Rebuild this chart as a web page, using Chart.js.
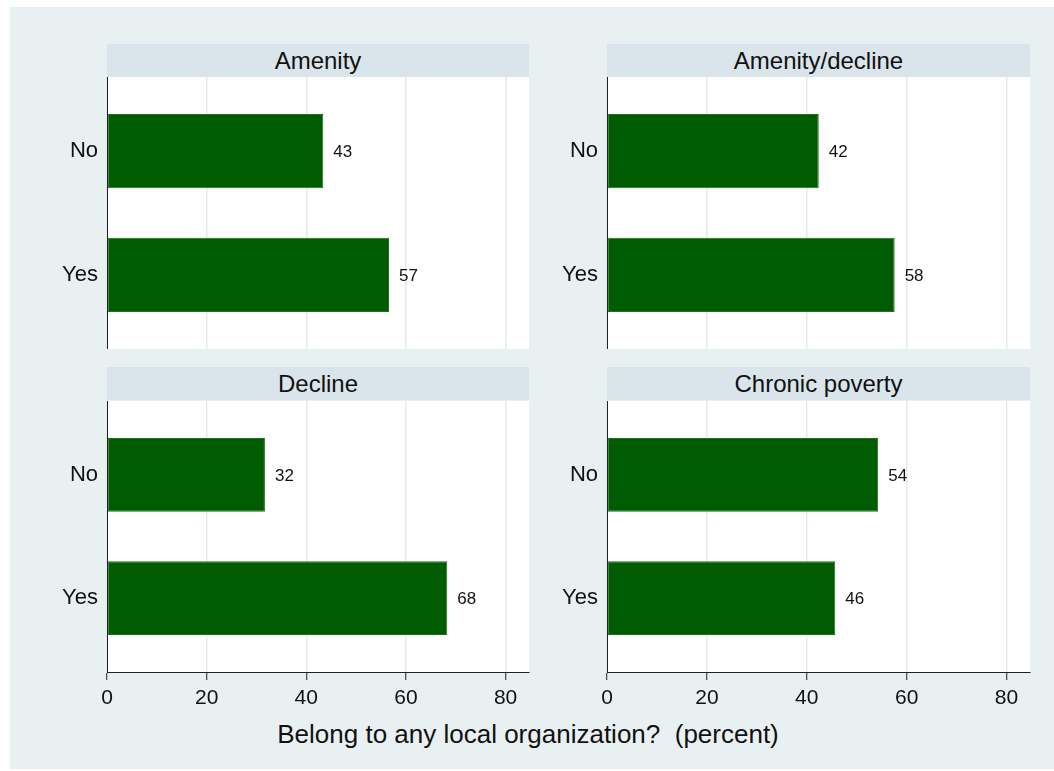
<!DOCTYPE html>
<html lang="en">
<head>
<meta charset="UTF-8">
<title>Belong to any local organization?</title>
<script src="https://cdn.jsdelivr.net/npm/chart.js"></script>
<style>
    body {
        margin: 0;
        background: #ffffff;
        font-family: "Liberation Sans", Arial, sans-serif;
        color: #111;
    }
    /* light graph region */
    .frame {
        position: absolute;
        left: 10px; top: 7px;
        width: 1044px; height: 762px;
        background: #e9f0f2;
    }
    /* panel title strips */
    .strip {
        position: absolute;
        height: 33px;
        line-height: 34px;
        background: #d9e5ea;
        text-align: center;
        font-size: 24px;
    }
    canvas { position: absolute; }
    #xtitle {
        position: absolute;
        left: 0; top: 719px;
        width: 1056px;
        text-align: center;
        font-size: 26px;
        white-space: pre;
    }
</style>
</head>
<body>

<div class="frame"></div>

<div class="strip" style="left:107px; top:44px; width:422px;" id="t0"></div>
<div class="strip" style="left:607px; top:44px; width:423px;" id="t1"></div>
<div class="strip" style="left:107px; top:367px; width:422px;" id="t2"></div>
<div class="strip" style="left:607px; top:367px; width:423px;" id="t3"></div>

<canvas id="c0" width="539" height="272" style="left:10px; top:77px;"></canvas>
<canvas id="c1" width="505" height="272" style="left:549px; top:77px;"></canvas>
<canvas id="c2" width="539" height="314" style="left:10px; top:401px;"></canvas>
<canvas id="c3" width="505" height="314" style="left:549px; top:401px;"></canvas>

<div id="xtitle"></div>

<script>
    // data (percent)
    const panelTitles = ["Amenity", "Amenity/decline", "Decline", "Chronic poverty"];
    const categories = ["No", "Yes"];
    const amenity = [43.4, 56.6];
    const amenityDecline = [42.4, 57.6];
    const decline = [31.7, 68.3];
    const chronicPoverty = [54.3, 45.7];
    const xTickValues = [0, 20, 40, 60, 80];
    const xMax = 84.7;
    const xAxisTitle = "Belong to any local organization?  (percent)";

    const seriesList = [amenity, amenityDecline, decline, chronicPoverty];
    const FONT = '"Liberation Sans", Arial, sans-serif';

    document.getElementById("xtitle").textContent = xAxisTitle;
    panelTitles.forEach((t, i) => {
        document.getElementById("t" + i).textContent = t;
    });

    // white plot region behind the bars
    const plotBackground = {
        id: "plotBackground",
        beforeDraw(chart) {
            const a = chart.chartArea;
            chart.ctx.save();
            chart.ctx.fillStyle = "#ffffff";
            chart.ctx.fillRect(a.left, a.top, a.right - a.left, a.bottom - a.top);
            chart.ctx.restore();
        }
    };

    // rounded value written just past the end of each bar
    const valueLabels = {
        id: "valueLabels",
        afterDatasetsDraw(chart) {
            const ctx = chart.ctx;
            const ds = chart.data.datasets[0];
            ctx.save();
            ctx.font = "17px " + FONT;
            ctx.fillStyle = "#111";
            ctx.textBaseline = "middle";
            ctx.textAlign = "left";
            chart.getDatasetMeta(0).data.forEach((bar, i) => {
                ctx.fillText(String(Math.round(ds.data[i].x)), bar.x + 10, bar.y + 1);
            });
            ctx.restore();
        }
    };

    function makePanel(idx) {
        const isBottom = idx >= 2;
        const isLeft = idx % 2 === 0;
        const values = seriesList[idx];

        new Chart(document.getElementById("c" + idx), {
            type: "bar",
            data: {
                datasets: [{
                    data: values.map((v, i) => ({ x: v, y: i })),
                    backgroundColor: "#005c00",
                    borderColor: "#1f701f",
                    borderWidth: 1,
                    borderSkipped: false,
                    categoryPercentage: 0.6,
                    barPercentage: 1
                }]
            },
            options: {
                indexAxis: "y",
                responsive: false,
                animation: false,
                events: [],
                layout: { padding: { left: 0, right: isLeft ? 20 : 24, top: 0, bottom: 0 } },
                plugins: {
                    legend: { display: false },
                    tooltip: { enabled: false }
                },
                scales: {
                    x: {
                        type: "linear",
                        min: 0,
                        max: xMax,
                        afterBuildTicks: s => { s.ticks = xTickValues.map(v => ({ value: v })); },
                        afterFit: s => { s.height = isBottom ? 43 : 0; },
                        grid: {
                            color: "#e3ebee",
                            lineWidth: 1.5,
                            drawTicks: isBottom,
                            tickLength: 8,
                            tickColor: "#222",
                            tickWidth: 1
                        },
                        border: { display: isBottom, color: "#222", width: 1 },
                        ticks: {
                            display: isBottom,
                            padding: 6,
                            color: "#111",
                            font: { size: 21, family: FONT },
                            maxRotation: 0
                        }
                    },
                    y: {
                        type: "linear",
                        reverse: true,
                        offset: false,
                        min: -0.6,
                        max: 1.6,
                        afterBuildTicks: s => { s.ticks = categories.map((c, i) => ({ value: i })); },
                        afterFit: s => {
                            s.width = isLeft ? 97 : 58;
                            s.paddingTop = 0;
                            s.paddingBottom = 0;
                        },
                        grid: { display: false, drawTicks: false },
                        border: { display: true, color: "#222", width: 1 },
                        ticks: {
                            padding: 9,
                            color: "#111",
                            font: { size: 22, family: FONT },
                            callback: v => categories[v]
                        }
                    }
                }
            },
            plugins: [plotBackground, valueLabels]
        });
    }

    [0, 1, 2, 3].forEach(makePanel);
</script>

</body>
</html>
